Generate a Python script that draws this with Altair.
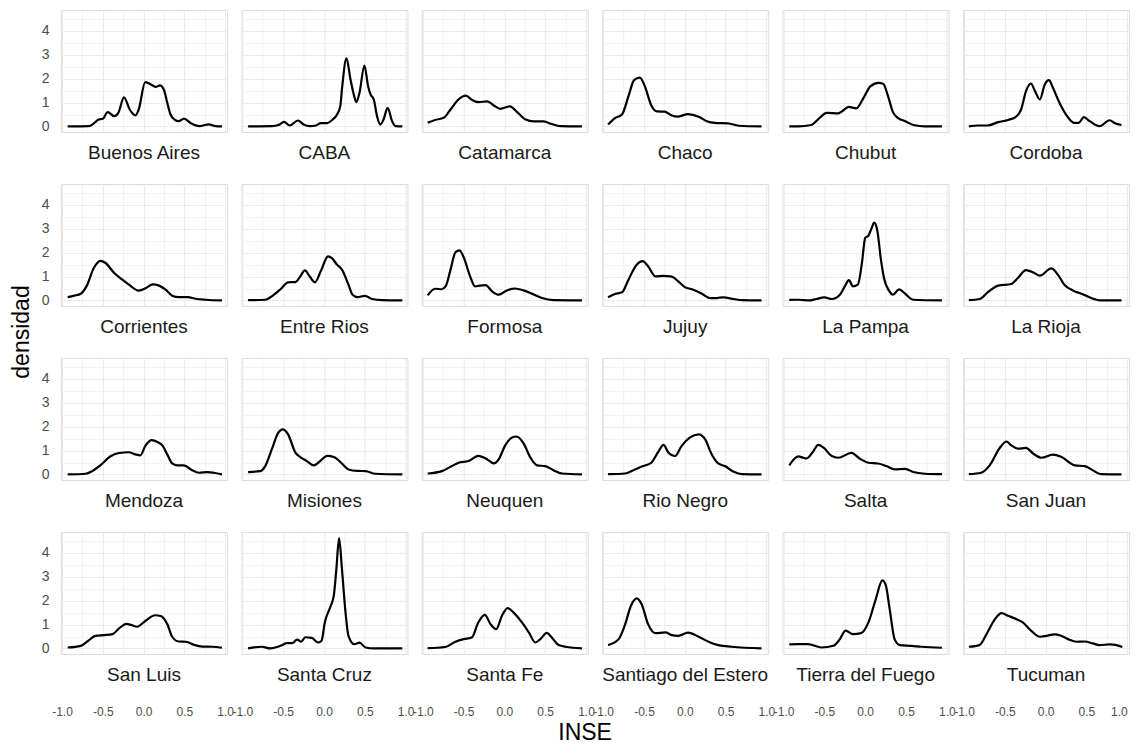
import altair as alt
import pandas as pd

PROVINCES = [
    "Buenos Aires", "CABA", "Catamarca", "Chaco", "Chubut", "Cordoba",
    "Corrientes", "Entre Rios", "Formosa", "Jujuy", "La Pampa", "La Rioja",
    "Mendoza", "Misiones", "Neuquen", "Rio Negro", "Salta", "San Juan",
    "San Luis", "Santa Cruz", "Santa Fe", "Santiago del Estero", "Tierra del Fuego", "Tucuman",
]

# (INSE, densidad) points
CURVES = {
    "Buenos Aires": [(-0.93, 0), (-0.67, 0.01), (-0.61, 0.13), (-0.55, 0.29), (-0.50, 0.32), (-0.44, 0.60), (-0.36, 0.43), (-0.31, 0.57), (-0.24, 1.22), (-0.17, 0.71), (-0.10, 0.46), (-0.06, 0.71), (0.02, 1.86), (0.10, 1.74), (0.15, 1.66), (0.20, 1.72), (0.25, 1.53), (0.29, 0.99), (0.33, 0.50), (0.385, 0.27), (0.43, 0.22), (0.495, 0.33), (0.58, 0.13), (0.68, 0.01), (0.80, 0.09), (0.88, 0.01), (0.96, 0)],
    "CABA": [(-0.93, 0), (-0.64, 0.01), (-0.55, 0.07), (-0.49, 0.19), (-0.42, 0.04), (-0.32, 0.25), (-0.25, 0.08), (-0.17, 0.01), (-0.10, 0.04), (-0.04, 0.14), (0.04, 0.14), (0.10, 0.27), (0.16, 0.50), (0.20, 0.85), (0.22, 1.55), (0.275, 2.85), (0.325, 1.97), (0.37, 1.27), (0.395, 1.02), (0.435, 1.41), (0.495, 2.55), (0.54, 1.69), (0.57, 1.34), (0.61, 1.13), (0.65, 0.43), (0.69, 0.08), (0.73, 0.29), (0.78, 0.78), (0.835, 0.22), (0.88, 0.01), (0.96, 0)],
    "Catamarca": [(-0.94, 0.15), (-0.85, 0.27), (-0.745, 0.36), (-0.66, 0.71), (-0.56, 1.14), (-0.47, 1.29), (-0.40, 1.12), (-0.32, 1.02), (-0.21, 1.05), (-0.13, 0.88), (-0.05, 0.74), (0.07, 0.84), (0.15, 0.62), (0.26, 0.29), (0.36, 0.21), (0.48, 0.21), (0.58, 0.10), (0.685, 0.01), (0.95, 0)],
    "Chaco": [(-0.94, 0.08), (-0.855, 0.35), (-0.77, 0.50), (-0.69, 1.27), (-0.62, 1.95), (-0.55, 2.05), (-0.49, 1.69), (-0.41, 0.88), (-0.34, 0.63), (-0.25, 0.62), (-0.16, 0.46), (-0.09, 0.41), (0.04, 0.52), (0.17, 0.41), (0.27, 0.22), (0.37, 0.15), (0.53, 0.13), (0.66, 0.03), (0.94, 0)],
    "Chubut": [(-0.93, 0), (-0.82, 0), (-0.66, 0.06), (-0.58, 0.29), (-0.47, 0.57), (-0.33, 0.55), (-0.27, 0.67), (-0.20, 0.82), (-0.11, 0.76), (-0.02, 1.20), (0.06, 1.67), (0.16, 1.83), (0.22, 1.79), (0.28, 1.27), (0.34, 0.60), (0.40, 0.36), (0.49, 0.22), (0.59, 0.06), (0.73, 0), (0.94, 0)],
    "Cordoba": [(-0.94, 0), (-0.83, 0.04), (-0.71, 0.04), (-0.58, 0.18), (-0.46, 0.27), (-0.36, 0.41), (-0.30, 0.71), (-0.24, 1.48), (-0.18, 1.80), (-0.13, 1.48), (-0.07, 1.13), (-0.01, 1.76), (0.04, 1.94), (0.09, 1.62), (0.17, 0.99), (0.25, 0.50), (0.35, 0.15), (0.405, 0.15), (0.47, 0.39), (0.54, 0.22), (0.66, 0.01), (0.785, 0.26), (0.85, 0.13), (0.93, 0.06)],
    "Corrientes": [(-0.93, 0.14), (-0.85, 0.20), (-0.77, 0.28), (-0.70, 0.59), (-0.61, 1.36), (-0.53, 1.66), (-0.47, 1.58), (-0.36, 1.15), (-0.26, 0.87), (-0.18, 0.66), (-0.06, 0.41), (0.03, 0.52), (0.11, 0.67), (0.19, 0.62), (0.27, 0.45), (0.35, 0.20), (0.43, 0.14), (0.54, 0.14), (0.64, 0.07), (0.76, 0.03), (0.96, 0)],
    "Entre Rios": [(-0.93, 0.01), (-0.72, 0.03), (-0.64, 0.17), (-0.53, 0.48), (-0.44, 0.76), (-0.35, 0.77), (-0.29, 1.01), (-0.235, 1.26), (-0.17, 0.98), (-0.11, 0.76), (-0.04, 1.22), (0.05, 1.85), (0.10, 1.76), (0.16, 1.50), (0.22, 1.29), (0.30, 0.66), (0.35, 0.24), (0.41, 0.14), (0.50, 0.19), (0.59, 0.06), (0.71, 0.01), (0.96, 0)],
    "Formosa": [(-0.94, 0.21), (-0.85, 0.49), (-0.77, 0.47), (-0.72, 0.59), (-0.66, 1.29), (-0.60, 2.02), (-0.55, 2.10), (-0.50, 1.82), (-0.42, 1.01), (-0.36, 0.59), (-0.30, 0.62), (-0.23, 0.64), (-0.15, 0.38), (-0.07, 0.24), (0.03, 0.42), (0.13, 0.50), (0.235, 0.42), (0.34, 0.28), (0.46, 0.10), (0.60, 0.01), (0.95, 0)],
    "Jujuy": [(-0.94, 0.13), (-0.855, 0.27), (-0.77, 0.34), (-0.69, 0.87), (-0.59, 1.50), (-0.515, 1.65), (-0.45, 1.43), (-0.36, 1.01), (-0.26, 1.03), (-0.16, 1.00), (-0.08, 0.80), (0.00, 0.56), (0.105, 0.45), (0.21, 0.28), (0.31, 0.10), (0.39, 0.10), (0.47, 0.13), (0.60, 0.06), (0.70, 0.01), (0.94, 0)],
    "La Pampa": [(-0.93, 0.02), (-0.82, 0.03), (-0.68, 0), (-0.60, 0.06), (-0.50, 0.13), (-0.41, 0.06), (-0.31, 0.24), (-0.25, 0.59), (-0.20, 0.85), (-0.15, 0.59), (-0.09, 0.66), (-0.04, 1.57), (0.00, 2.62), (0.04, 2.72), (0.08, 3.04), (0.11, 3.26), (0.15, 2.90), (0.19, 1.78), (0.23, 0.94), (0.29, 0.42), (0.34, 0.24), (0.415, 0.46), (0.49, 0.28), (0.59, 0.03), (0.94, 0)],
    "La Rioja": [(-0.94, 0.01), (-0.81, 0.06), (-0.71, 0.34), (-0.58, 0.62), (-0.42, 0.69), (-0.34, 0.94), (-0.24, 1.27), (-0.15, 1.17), (-0.07, 1.04), (0.07, 1.34), (0.15, 1.08), (0.23, 0.66), (0.34, 0.41), (0.44, 0.28), (0.56, 0.10), (0.68, 0), (0.93, 0)],
    "Mendoza": [(-0.93, 0), (-0.71, 0.03), (-0.63, 0.14), (-0.53, 0.38), (-0.40, 0.77), (-0.30, 0.90), (-0.18, 0.93), (-0.10, 0.84), (-0.04, 0.80), (0.025, 1.22), (0.10, 1.44), (0.17, 1.36), (0.23, 1.22), (0.29, 0.84), (0.35, 0.46), (0.41, 0.38), (0.495, 0.38), (0.58, 0.21), (0.68, 0.07), (0.78, 0.10), (0.86, 0.07), (0.96, 0)],
    "Misiones": [(-0.93, 0.10), (-0.78, 0.14), (-0.72, 0.35), (-0.64, 1.05), (-0.56, 1.75), (-0.505, 1.89), (-0.44, 1.68), (-0.35, 0.91), (-0.29, 0.73), (-0.21, 0.56), (-0.125, 0.38), (-0.06, 0.52), (0.04, 0.78), (0.12, 0.73), (0.22, 0.46), (0.30, 0.21), (0.41, 0.15), (0.51, 0.14), (0.63, 0.03), (0.96, 0)],
    "Neuquen": [(-0.94, 0.04), (-0.765, 0.14), (-0.66, 0.32), (-0.56, 0.49), (-0.44, 0.56), (-0.32, 0.78), (-0.21, 0.63), (-0.13, 0.46), (-0.07, 0.63), (0.01, 1.22), (0.10, 1.56), (0.15, 1.59), (0.235, 1.30), (0.32, 0.70), (0.40, 0.38), (0.50, 0.35), (0.60, 0.18), (0.705, 0.04), (0.95, 0)],
    "Rio Negro": [(-0.94, 0.01), (-0.73, 0.04), (-0.61, 0.21), (-0.51, 0.35), (-0.41, 0.49), (-0.32, 0.98), (-0.26, 1.24), (-0.20, 0.91), (-0.12, 0.77), (-0.04, 1.19), (0.06, 1.54), (0.17, 1.68), (0.25, 1.47), (0.32, 0.91), (0.41, 0.46), (0.49, 0.35), (0.60, 0.11), (0.70, 0.01), (0.94, 0)],
    "Salta": [(-0.93, 0.38), (-0.87, 0.65), (-0.82, 0.76), (-0.76, 0.70), (-0.72, 0.67), (-0.64, 0.95), (-0.575, 1.24), (-0.51, 1.12), (-0.41, 0.77), (-0.33, 0.70), (-0.17, 0.90), (-0.065, 0.66), (0.04, 0.49), (0.16, 0.46), (0.26, 0.35), (0.36, 0.21), (0.49, 0.23), (0.59, 0.10), (0.73, 0.03), (0.94, 0.01)],
    "San Juan": [(-0.94, 0.01), (-0.79, 0.07), (-0.685, 0.38), (-0.56, 1.12), (-0.48, 1.38), (-0.42, 1.22), (-0.34, 1.08), (-0.24, 1.11), (-0.15, 0.87), (-0.05, 0.70), (0.09, 0.83), (0.19, 0.74), (0.36, 0.38), (0.48, 0.35), (0.58, 0.17), (0.68, 0.01), (0.93, 0)],
    "San Luis": [(-0.93, 0.04), (-0.77, 0.11), (-0.69, 0.29), (-0.59, 0.53), (-0.485, 0.56), (-0.38, 0.60), (-0.30, 0.84), (-0.21, 1.03), (-0.15, 0.98), (-0.08, 0.91), (0.025, 1.16), (0.14, 1.39), (0.21, 1.36), (0.29, 1.02), (0.35, 0.49), (0.43, 0.29), (0.52, 0.28), (0.62, 0.15), (0.72, 0.08), (0.84, 0.07), (0.96, 0.03)],
    "Santa Cruz": [(-0.93, 0), (-0.76, 0.07), (-0.66, 0), (-0.51, 0.14), (-0.46, 0.22), (-0.39, 0.22), (-0.33, 0.37), (-0.28, 0.28), (-0.23, 0.47), (-0.15, 0.44), (-0.07, 0.25), (-0.03, 0.32), (0.01, 1.09), (0.08, 1.76), (0.12, 2.21), (0.15, 3.26), (0.185, 4.62), (0.22, 3.33), (0.26, 1.65), (0.30, 0.53), (0.37, 0.18), (0.435, 0.24), (0.51, 0.04), (0.61, 0), (0.96, 0)],
    "Santa Fe": [(-0.94, 0.01), (-0.725, 0.06), (-0.60, 0.28), (-0.50, 0.39), (-0.40, 0.46), (-0.32, 1.09), (-0.24, 1.41), (-0.17, 1.02), (-0.10, 0.81), (-0.03, 1.37), (0.04, 1.69), (0.11, 1.51), (0.215, 1.09), (0.30, 0.67), (0.38, 0.25), (0.44, 0.39), (0.52, 0.65), (0.58, 0.46), (0.665, 0.14), (0.75, 0.07), (0.95, 0)],
    "Santiago del Estero": [(-0.94, 0.14), (-0.81, 0.39), (-0.73, 1.02), (-0.66, 1.79), (-0.59, 2.10), (-0.53, 1.86), (-0.45, 1.02), (-0.36, 0.64), (-0.24, 0.67), (-0.16, 0.56), (-0.08, 0.53), (0.04, 0.66), (0.17, 0.49), (0.29, 0.28), (0.41, 0.14), (0.575, 0.07), (0.94, 0)],
    "Tierra del Fuego": [(-0.93, 0.17), (-0.82, 0.18), (-0.70, 0.18), (-0.535, 0.04), (-0.39, 0.11), (-0.31, 0.39), (-0.24, 0.75), (-0.15, 0.60), (-0.05, 0.64), (0.04, 1.09), (0.13, 2.07), (0.21, 2.85), (0.25, 2.68), (0.30, 1.65), (0.36, 0.39), (0.425, 0.14), (0.57, 0.11), (0.69, 0.07), (0.94, 0.03)],
    "Tucuman": [(-0.94, 0.07), (-0.81, 0.14), (-0.73, 0.56), (-0.62, 1.23), (-0.54, 1.48), (-0.46, 1.37), (-0.38, 1.26), (-0.28, 1.09), (-0.175, 0.74), (-0.07, 0.49), (0.01, 0.53), (0.11, 0.59), (0.19, 0.53), (0.275, 0.39), (0.38, 0.28), (0.48, 0.29), (0.58, 0.21), (0.66, 0.14), (0.785, 0.17), (0.87, 0.14), (0.94, 0.06)],
}

# grid lines: major + minor (ggplot style); labels only at majors
X_GRID = [-1.0, -0.75, -0.5, -0.25, 0.0, 0.25, 0.5, 0.75, 1.0]
Y_GRID = [0, 0.5, 1, 1.5, 2, 2.5, 3, 3.5, 4, 4.5]
X_DOMAIN = [-1.012, 1.022]
Y_DOMAIN = [-0.233, 4.88]

GRID = "#EBEBEB"
FONT = "Liberation Sans"
W, H = 166, 122
NCOL = 6

X_MAJOR = "abs(datum.value * 2 - round(datum.value * 2)) < 0.001"
Y_MAJOR = "abs(datum.value - round(datum.value)) < 0.001"


def panel(name, idx):
    r, c = divmod(idx, NCOL)
    xs = alt.Scale(domain=X_DOMAIN, nice=False, zero=False)
    ys = alt.Scale(domain=Y_DOMAIN, nice=False, zero=False)
    if c == NCOL - 1:
        # keep the very last label inside the page
        label_align = {"condition": {"test": "datum.value > 0.9", "value": "right"},
                       "value": "center"}
    else:
        label_align = "center"
    xaxis = alt.Axis(
        values=X_GRID, grid=True, gridColor=GRID,
        gridWidth={"condition": {"test": X_MAJOR, "value": 1.1}, "value": 0.6},
        ticks=False, domain=False, labels=(r == 3), title=None,
        labelExpr=X_MAJOR + " ? replace(format(datum.value, '.1f'), '\u2212', '-') : ''",
        labelFontSize=12, labelColor="#4D4D4D", labelPadding=52,
        labelAlign=label_align,
        labelOverlap=False, labelFlush=False, labelBound=False, labelFont=FONT,
    )
    yaxis = alt.Axis(
        values=Y_GRID, grid=True, gridColor=GRID,
        gridWidth={"condition": {"test": Y_MAJOR, "value": 1.1}, "value": 0.6},
        ticks=False, domain=False, labels=(c == 0), title=None,
        labelExpr=Y_MAJOR + " ? format(datum.value, 'd') : ''",
        labelFontSize=14, labelColor="#4D4D4D", labelPadding=12,
        labelOverlap=False, labelFlush=False, labelFont=FONT,
    )
    df = pd.DataFrame(CURVES[name], columns=["INSE", "densidad"])
    line = alt.Chart(df).mark_line(
        color="black", strokeWidth=2.2, interpolate="monotone").encode(
        x=alt.X("INSE:Q", scale=xs, axis=xaxis),
        y=alt.Y("densidad:Q", scale=ys, axis=yaxis),
    )
    label = alt.Chart(pd.DataFrame({"label": [name]})).mark_text(
        fontSize=19, color="#1A1A1A", font=FONT, align="center",
        baseline="alphabetic").encode(
        text="label:N", x=alt.value(W / 2), y=alt.value(149))
    return alt.layer(line, label).properties(width=W, height=H)


panels = [panel(name, i) for i, name in enumerate(PROVINCES)]

grid = alt.concat(*panels, columns=NCOL, spacing={"row": 52, "column": 14.4},
                  bounds="flush").properties(
    title=alt.TitleParams(text="INSE", orient="bottom", anchor="middle",
                          fontSize=23, fontWeight="normal", color="black",
                          font=FONT, offset=4)
)

chart = alt.vconcat(grid).properties(
    title=alt.TitleParams(text="densidad", orient="left", anchor="middle",
                          fontSize=23, fontWeight="normal", color="black",
                          font=FONT, offset=7, dx=45),
    padding={"left": 2, "top": 1, "right": 0, "bottom": 0},
).configure_view(stroke="transparent").configure(font=FONT)

chart.save("out.html", embed_options={"renderer": "svg", "actions": False})
